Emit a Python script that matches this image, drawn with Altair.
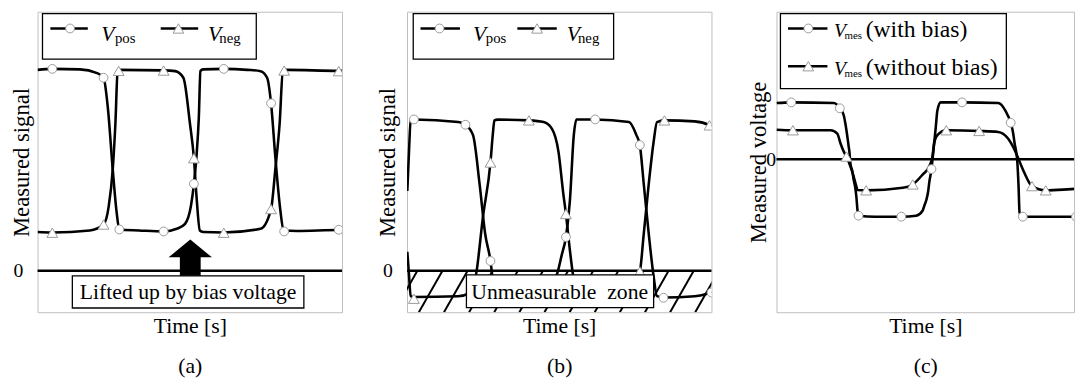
import altair as alt
import pandas as pd

FONT = "Liberation Serif"
H = 305
WA, WB, WC = 309, 309, 302

# ---------------- panel (a) : time t, signal v ----------------
a_pos_t = [0, 15, 43, 59.7, 67, 71.3, 76.3, 80.3, 83, 103, 128, 141.3, 149.7, 155.7, 158.7, 161.3, 163.7, 165.3,
           168, 189, 213, 226.3, 233, 237, 241.3, 246.3, 249.7, 263, 306, 309]
a_pos_v = [204, 205, 204.5, 201, 196, 166, 103, 59, 42, 41, 40, 42.7, 47.7, 66, 88.3, 116, 156, 202.7,
           204.5, 205, 204, 202.7, 196, 170, 116, 62.7, 41, 40.5, 41.5, 41.5]
a_pos_mt = [15, 67, 83, 128, 158.7, 189, 237, 250.3, 305.7]
a_pos_mv = [205, 196, 42, 40, 88.3, 205, 170, 40, 41.7]

a_neg_t = [0, 15, 53, 67, 72.3, 76.3, 79, 81.3, 83, 128, 139.7, 148, 154.7, 158.7, 161.3, 164.7, 168, 189,
           226.3, 237, 241.3, 245.7, 249, 253, 305.7, 309]
a_neg_v = [39.5, 39, 41, 47, 66, 102.7, 149.3, 202.7, 204, 203.5, 202.7, 196, 149.3, 114.3, 76, 41, 39.5, 39,
           42.7, 62.7, 102.7, 149.3, 202.7, 204, 203, 203]
a_neg_mt = [15, 67, 82.3, 128, 158.7, 189, 237, 250.3, 305.7]
a_neg_mv = [38.7, 47, 203, 203.3, 114.3, 38.7, 62.7, 203.3, 202.7]

# ---------------- panel (b) ----------------
b_pos_t = [0.3, 2, 3.7, 7, 52, 59.3, 67, 73.7, 79.3, 84.7, 87, 89, 92, 122, 137, 144, 149, 152, 157, 161.3,
           165.3, 169.3, 172, 191, 225.3, 232.7, 236.3, 240.3, 245.3, 250.3, 253.7, 260.3, 292, 302, 309]
b_pos_v = [81, 121, 153, 153.7, 151, 148.3, 137.7, 87.7, 37.7, 10, -9, -22, -25.7, -26, -24, -19, -9, -4, 16, 34.3,
           71, 138, 153.7, 153.7, 151, 138, 127.7, 88, 38, -5.7, -25.7, -27, -25.7, -24, -21]
b_pos_mt = [7, 59.3, 84.7, 120, 161.3, 191, 236.3, 260.3, 309]
b_pos_mv = [153.7, 148.3, 10, -26, 34.3, 153.7, 127.7, -27.3, -22]

b_neg_t = [0.3, 2, 3.7, 7, 52, 63.7, 70.3, 77, 84.7, 87, 88.7, 92, 123.7, 138.7, 147, 153.7, 158.7, 161.3,
           165.3, 168.7, 172, 177, 212, 224, 230, 236.3, 240.3, 245.3, 250.3, 253.7, 261.3, 292, 307, 309]
b_neg_v = [19.3, -4, -25.7, -26.5, -25.7, -22.3, -2.3, 54.3, 110, 137.7, 152.7, 153.5, 152.7, 151, 144.3, 121,
           77.7, 57.7, 21, -5.7, -22, -26, -26, -22, -12, -0.7, 37.7, 87.7, 131, 151, 152.7, 151.7, 147.7, 146.5]
b_neg_mt = [7, 84.7, 123.7, 161.3, 191, 236.3, 261.3, 307]
b_neg_mv = [-28.3, 110, 152.7, 57.7, -26, -0.7, 152.7, 147.7]

hatch_t = [-13.5, 12, 37.5, 63, 88.5, 114, 139.5, 165, 190.5, 216, 241.5, 267, 292.5]

# ---------------- panel (c) ----------------
c_with_t = [0, 15, 58.3, 64.3, 68.3, 70, 71, 73.3, 74, 75, 77, 78.3, 80, 81, 82.3, 83.3, 100, 126.7, 141.7,
            148.3, 150, 152.3, 154, 155, 157.3, 159, 161.7, 163.3, 166.7, 188.3, 225, 232.3, 237.7, 240, 241.7,
            244.3, 245, 245.7, 246.7, 250, 304]
c_with_v = [57, 57.7, 57, 51.7, 44.4, 35.7, 29.4, 12.7, 7.7, -4, -12.3, -20.6, -29.3, -37.3, -52.3, -57.3,
            -58.3, -58.3, -57.3, -52.3, -47.3, -40.6, -32.3, -24, -10, 6, 32.7, 49.4, 57.7, 57.7, 57, 49.4, 37,
            27.7, 16, -0.6, -12.3, -27.3, -54, -58.3, -58.3]
c_with_mt = [15, 64.3, 83.3, 126.7, 157.3, 188.3, 237.7, 250, 304]
c_with_mv = [57.7, 51.7, -57.3, -58.3, -10, 57.7, 37, -58.3, -58.3]

c_wo_t = [0, 16.7, 55, 61.7, 65, 68.3, 71, 75, 78.3, 81, 82.3, 91, 128.3, 138.3, 148.3, 155, 158.3, 160,
          163.3, 172.3, 205.7, 225, 235, 241.7, 246.7, 251.7, 259.3, 273.3, 295, 304]
c_wo_v = [30, 29.4, 29.4, 26, 16, 7.7, 2.7, -7.3, -17.3, -27.3, -31.3, -31.6, -29, -25.6, -15.6, -7.3, 2.7, 16,
          24.4, 29.4, 28.7, 27.7, 21, 9.4, -2.3, -14, -27.3, -31.6, -30.6, -30]
c_wo_mt = [16.7, 71, 91, 138.3, 172.3, 205.7, 259.3, 273.3]
c_wo_mv = [29.4, 2.7, -31.6, -25.6, 29.4, 28.7, -27.3, -31.6]

ONE = pd.DataFrame({"k": [0]})
MARK_STROKE = "#9a9a9a"


def axes(ytitle, title_x, lab_pad, cap):
    xa = alt.Axis(labels=False, ticks=False, domain=False, grid=False, title=["Time [s]", cap],
                  titleFont=FONT, titleFontSize=22, titleFontWeight="normal", titleColor="black",
                  titlePadding=4, titleLineHeight=40)
    ya = alt.Axis(values=[0], ticks=False, domain=False, grid=False, labelFont=FONT, labelFontSize=20,
                  labelColor="black", labelPadding=lab_pad, title=ytitle, titleFont=FONT, titleFontSize=23,
                  titleFontWeight="normal", titleColor="black", titleX=title_x, titleY=H / 2,
                  titleAngle=270, titleBaseline="alphabetic", titleAlign="center")
    return xa, ya


def curve(t, v, xs, ys, xa, ya):
    df = pd.DataFrame({"t": t, "v": v})
    return alt.Chart(df).mark_line(color="black", strokeWidth=2.6, interpolate="monotone", clip=True).encode(
        x=alt.X("t:Q", scale=xs, axis=xa), y=alt.Y("v:Q", scale=ys, axis=ya))


def markers(t, v, shape, size, xs, ys, xa, ya):
    df = pd.DataFrame({"t": t, "v": v})
    return alt.Chart(df).mark_point(shape=shape, size=size, filled=True, fill="white", stroke=MARK_STROKE,
                                    strokeWidth=1, opacity=1, clip=True).encode(
        x=alt.X("t:Q", scale=xs, axis=xa), y=alt.Y("v:Q", scale=ys, axis=ya))


def zero(ys, ya):
    return alt.Chart(pd.DataFrame({"z": [0]})).mark_rule(color="black", strokeWidth=2.5).encode(
        y=alt.Y("z:Q", scale=ys, axis=ya))


def vrect(x, x2, y, y2, sw=1.3):
    return alt.Chart(ONE).mark_rect(fill="white", stroke="black", strokeWidth=sw).encode(
        x=alt.value(x), x2=alt.value(x2), y=alt.value(y), y2=alt.value(y2))


def vrule(x, x2, y):
    return alt.Chart(ONE).mark_rule(color="black", strokeWidth=2.5).encode(
        x=alt.value(x), x2=alt.value(x2), y=alt.value(y))


def vpoint(shape, size, x, y):
    return alt.Chart(ONE).mark_point(shape=shape, size=size, filled=True, fill="white", stroke=MARK_STROKE,
                                     strokeWidth=1, opacity=1).encode(x=alt.value(x), y=alt.value(y))


def vtext(txt, x, y, size, italic=False, align="left"):
    return alt.Chart(ONE).mark_text(text=txt, font=FONT, fontSize=size,
                                    fontStyle="italic" if italic else "normal", align=align,
                                    baseline="alphabetic", color="black").encode(
        x=alt.value(x), y=alt.value(y))


CIRC, CSIZE = "circle", 80
TRI, TSIZE = "triangle-up", 120

# ----- panel (a) -----
xs_a = alt.Scale(domain=[0, WA], nice=False, zero=False)
ys_a = alt.Scale(domain=[-42, 263], nice=False, zero=False)
xa_a, ya_a = axes("Measured signal", -9, 15, "(a)")
arrow = "M-1,0L0,-0.82L1,0L0.48,0L0.48,0.86L-0.48,0.86L-0.48,0Z"
panel_a = alt.layer(
    zero(ys_a, ya_a),
    curve(a_pos_t, a_pos_v, xs_a, ys_a, xa_a, ya_a),
    curve(a_neg_t, a_neg_v, xs_a, ys_a, xa_a, ya_a),
    markers(a_pos_mt, a_pos_mv, CIRC, CSIZE, xs_a, ys_a, xa_a, ya_a),
    markers(a_neg_mt, a_neg_mv, TRI, TSIZE, xs_a, ys_a, xa_a, ya_a),
    vrect(5, 222, 2, 48),
    vrule(13, 51, 17), vpoint(CIRC, CSIZE, 33, 17),
    vtext("V", 64.7, 29.5, 22, italic=True), vtext("pos", 78.5, 32, 15),
    vrule(125, 163, 17), vpoint(TRI, TSIZE, 143, 17),
    vtext("V", 173, 29.5, 22, italic=True), vtext("neg", 184.5, 32, 15),
    alt.Chart(ONE).mark_point(shape=arrow, size=1936, filled=True, color="black", opacity=1).encode(
        x=alt.value(155), y=alt.value(249.3)),
    vrect(35.3, 270.3, 268, 300.7),
    vtext("Lifted up by bias voltage", 152.8, 292, 22, align="center"),
).properties(width=WA, height=H)

# ----- panel (b) -----
xs_b = alt.Scale(domain=[0, WB], nice=False, zero=False)
ys_b = alt.Scale(domain=[-42, 263], nice=False, zero=False)
xa_b, ya_b = axes("Measured signal", -13, 15, "(b)")
hatch_df = pd.DataFrame({"t": hatch_t})
hatch_df["t2"] = hatch_df["t"] + 24
hatch_df["yb"] = -42
hatch_df["yt"] = 0
hatch = alt.Chart(hatch_df).mark_rule(color="black", strokeWidth=2, clip=True).encode(
    x=alt.X("t:Q", scale=xs_b, axis=xa_b), x2="t2:Q",
    y=alt.Y("yb:Q", scale=ys_b, axis=ya_b), y2="yt:Q")
panel_b = alt.layer(
    hatch,
    zero(ys_b, ya_b),
    curve(b_pos_t, b_pos_v, xs_b, ys_b, xa_b, ya_b),
    curve(b_neg_t, b_neg_v, xs_b, ys_b, xa_b, ya_b),
    markers(b_pos_mt, b_pos_mv, CIRC, CSIZE, xs_b, ys_b, xa_b, ya_b),
    markers(b_neg_mt, b_neg_mv, TRI, TSIZE, xs_b, ys_b, xa_b, ya_b),
    vrect(6.3, 209.7, 2, 48),
    vrule(13.7, 53.7, 17), vpoint(CIRC, CSIZE, 33, 17),
    vtext("V", 67, 29.5, 22, italic=True), vtext("pos", 80, 32, 15),
    vrule(112, 152, 17), vpoint(TRI, TSIZE, 132, 17),
    vtext("V", 162, 29.5, 22, italic=True), vtext("neg", 173.5, 32, 15),
    vrect(60.3, 250.3, 267, 300.3),
    vtext("Unmeasurable\u00a0 zone", 155, 292, 22, align="center"),
).properties(width=WB, height=H)

# ----- panel (c) -----
xs_c = alt.Scale(domain=[0, WC], nice=False, zero=False)
ys_c = alt.Scale(domain=[-155.3, 149.7], nice=False, zero=False)
xa_c, ya_c = axes("Measured voltage", -11.5, 1, "(c)")
panel_c = alt.layer(
    zero(ys_c, ya_c),
    curve(c_with_t, c_with_v, xs_c, ys_c, xa_c, ya_c),
    curve(c_wo_t, c_wo_v, xs_c, ys_c, xa_c, ya_c),
    markers(c_with_mt, c_with_mv, CIRC, CSIZE, xs_c, ys_c, xa_c, ya_c),
    markers(c_wo_mt, c_wo_mv, TRI, TSIZE, xs_c, ys_c, xa_c, ya_c),
    vrect(4, 233.3, 2, 78),
    vrule(11.7, 51.7, 17), vpoint(CIRC, CSIZE, 32.3, 17),
    vtext("V", 58.3, 25.5, 20, italic=True), vtext("mes", 69, 28, 11), vtext("(with bias)", 90.5, 25.5, 24),
    vrule(11.7, 51.7, 55.3), vpoint(TRI, TSIZE, 32.3, 55.3),
    vtext("V", 58.3, 63.8, 20, italic=True), vtext("mes", 69, 66.3, 11), vtext("(without bias)", 90.5, 63.8, 24),
).properties(width=WC, height=H)

chart = alt.hconcat(panel_a, panel_b, panel_c, spacing=66, bounds="flush").properties(
    padding={"left": 2, "top": 0, "right": 0, "bottom": 0}
).configure_view(stroke="#bfbfbf", strokeWidth=1)

chart.save("out.html", embed_options={"renderer": "svg", "actions": False})
